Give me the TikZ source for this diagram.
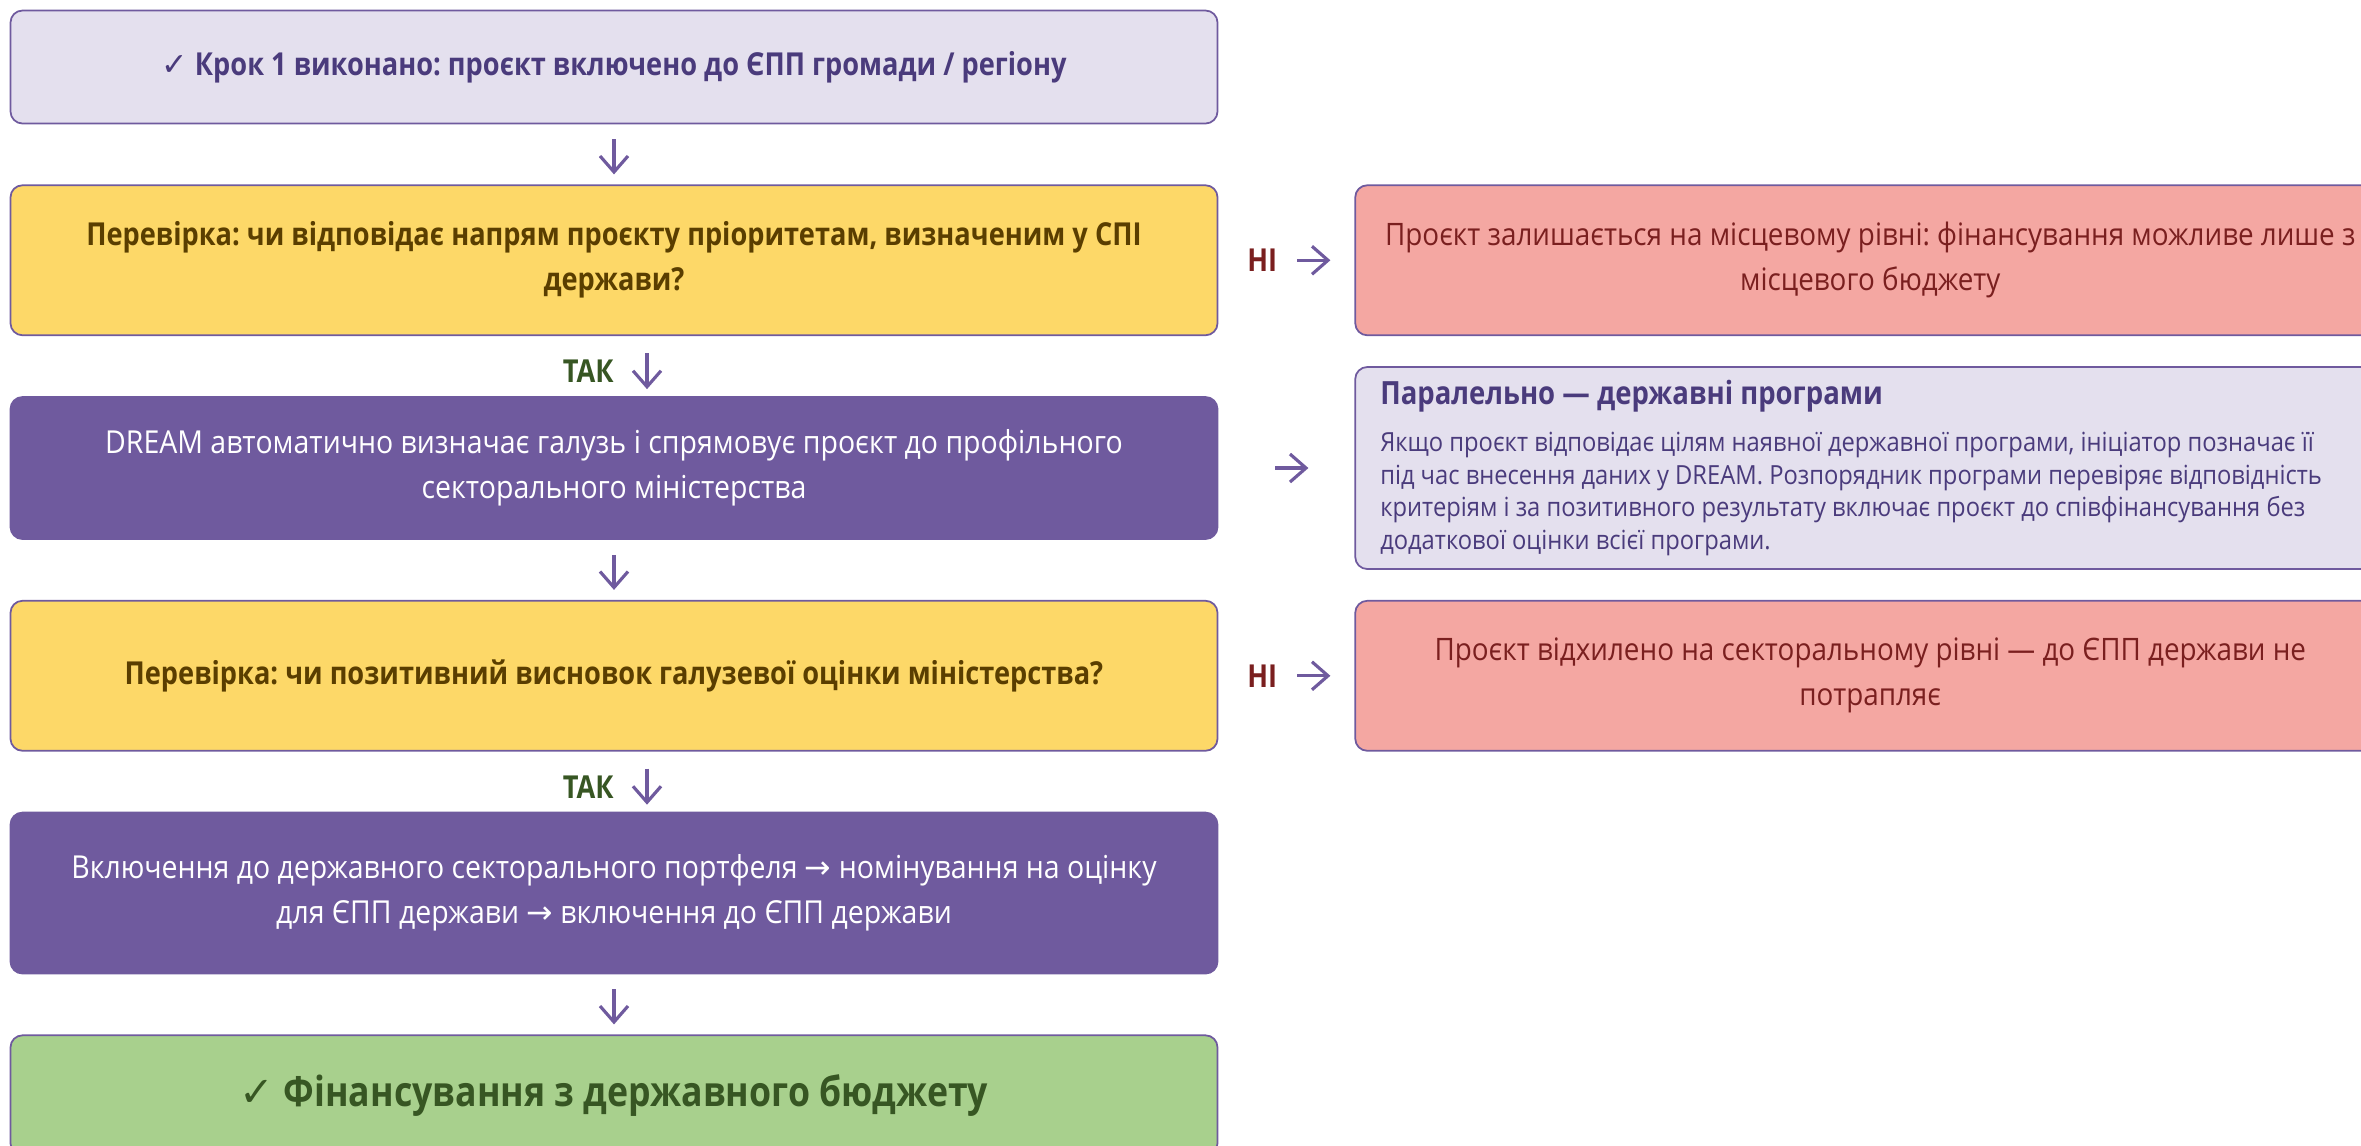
\documentclass[tikz,border=0pt]{standalone}
\usepackage{fontspec}
\setmainfont{Open Sans}[FakeStretch=0.9, BoldFeatures={FakeStretch=0.86}]
\newfontfamily\symfont{DejaVu Sans}
\usetikzlibrary{positioning,arrows.meta}
\frenchspacing

\definecolor{frame}{HTML}{6F5A9E}
\definecolor{lilac}{HTML}{E4E0EE}
\definecolor{gold}{HTML}{FDD868}
\definecolor{rose}{HTML}{F4A7A2}
\definecolor{leaf}{HTML}{A8D08D}
\definecolor{inkpurple}{HTML}{4A3B7C}
\definecolor{inkbrown}{HTML}{5A3E00}
\definecolor{inkred}{HTML}{7A1F1F}
\definecolor{inkgreen}{HTML}{375623}

\newcommand{\chk}{{\symfont ✓}}
\newcommand{\rarr}{{\symfont →}}
\newcommand{\mainsize}{\fontsize{9}{12.8}\selectfont}

\begin{document}
\begin{tikzpicture}[node distance=0.6cm,
    box/.style={draw=frame, line width=0.5pt, rounded corners=0.12cm,
        align=flush center, minimum width=12.07cm, text width=11.6cm},
    startbox/.style={box, fill=lilac, text=inkpurple, font=\mainsize\bfseries, minimum height=1.13cm},
    checkbox/.style={box, fill=gold, text=inkbrown, font=\mainsize\bfseries, minimum height=1.5cm},
    actbox/.style={box, fill=frame, text=white, font=\mainsize, minimum height=1.42cm},
    finalbox/.style={box, fill=leaf, text=inkgreen, font=\fontsize{11.8}{14}\selectfont\bfseries, minimum height=1.2cm},
    nobox/.style={box, fill=rose, text=inkred, font=\fontsize{8.8}{12.8}\selectfont, minimum width=10.3cm,
        text width=10.0cm, minimum height=1.5cm},
    parbox/.style={draw=frame, line width=0.5pt, rounded corners=0.12cm, fill=lilac, text=inkpurple,
        align=flush left, text width=9.85cm, inner xsep=0.25cm, minimum height=2.02cm},
    flow/.style={draw=frame, line width=0.9pt, -{Straight Barb[length=1.6mm,width=2.8mm]}},
    yes/.style={text=inkgreen, font=\mainsize\bfseries},
    no/.style={text=inkred, font=\mainsize\bfseries}]

    \clip (0,0) rectangle (23.61,-11.45);

    % main column
    \node[startbox] (start) at (6.14,-0.67) {\chk{} Крок 1 виконано: проєкт включено до ЄПП громади / регіону};
    \node[checkbox, below=of start] (prio) {Перевірка: чи відповідає напрям проєкту пріоритетам, визначеним у СПІ\\ держави?};
    \node[actbox, below=of prio] (dream) {DREAM автоматично визначає галузь і спрямовує проєкт до профільного\\ секторального міністерства};
    \node[checkbox, below=of dream] (verdict) {Перевірка: чи позитивний висновок галузевої оцінки міністерства?};
    \node[actbox, minimum height=1.61cm, below=of verdict] (portfolio) {Включення до державного секторального портфеля \rarr{} номінування на оцінку\\ для ЄПП держави \rarr{} включення до ЄПП держави};
    \node[finalbox, below=of portfolio] (funding) {\chk{} Фінансування з державного бюджету};

    % side boxes
    \node[nobox, right=1.36cm of prio] (local) {Проєкт залишається на місцевому рівні: фінансування можливе лише з\\ місцевого бюджету};
    \node[parbox, right=1.36cm of dream] (programs) {{\fontsize{9.1}{12}\selectfont\bfseries Паралельно — державні програми}\par\vspace{4pt}
        {\fontsize{7.5}{9.3}\selectfont Якщо проєкт відповідає цілям наявної державної програми, ініціатор позначає її\\
        під час внесення даних у DREAM. Розпорядник програми перевіряє відповідність\\
        критеріям і за позитивного результату включає проєкт до співфінансування без\\
        додаткової оцінки всієї програми.\par}};
    \node[nobox, right=1.36cm of verdict] (rejected) {Проєкт відхилено на секторальному рівні — до ЄПП держави не\\ потрапляє};

    % connectors
    \draw[flow] ([yshift=-0.15cm]start.south) -- ([yshift=0.1cm]prio.north);
    \draw[flow] ([xshift=0.33cm,yshift=-0.17cm]prio.south) -- ([xshift=0.33cm,yshift=0.07cm]dream.north)
        node[midway, left=0.2cm, yes] {ТАК};
    \draw[flow] ([yshift=-0.15cm]dream.south) -- ([yshift=0.1cm]verdict.north);
    \draw[flow] ([xshift=0.33cm,yshift=-0.17cm]verdict.south) -- ([xshift=0.33cm,yshift=0.07cm]portfolio.north)
        node[midway, left=0.2cm, yes] {ТАК};
    \draw[flow] ([yshift=-0.15cm]portfolio.south) -- ([yshift=0.1cm]funding.north);

    \draw[flow] ([xshift=0.79cm]prio.east) -- ([xshift=-0.24cm]local.west)
        node[pos=0, left=0.07cm, no] {НІ};
    \draw[flow] ([xshift=0.57cm]dream.east) -- ([xshift=-0.46cm]programs.west);
    \draw[flow] ([xshift=0.79cm]verdict.east) -- ([xshift=-0.24cm]rejected.west)
        node[pos=0, left=0.07cm, no] {НІ};
\end{tikzpicture}
\end{document}
